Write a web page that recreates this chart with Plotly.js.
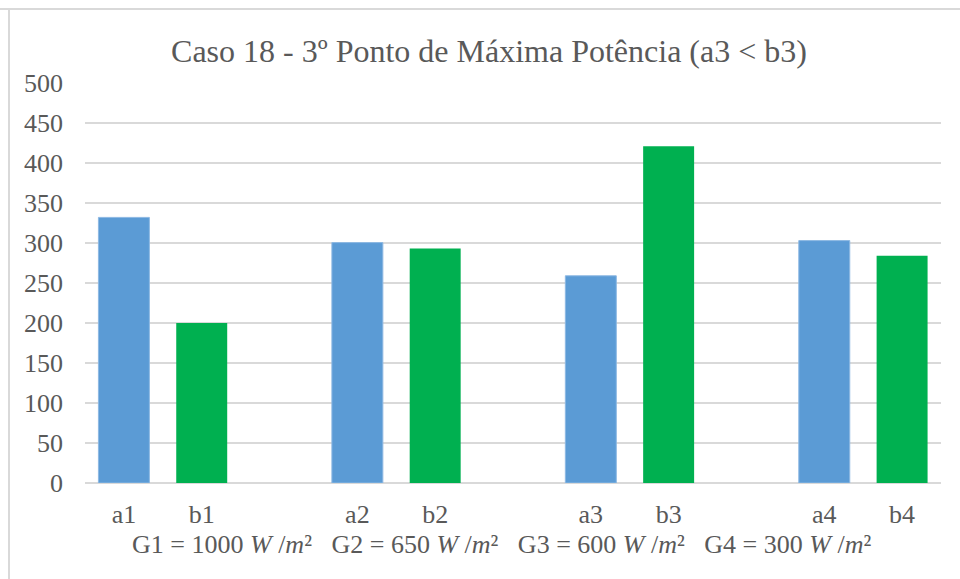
<!DOCTYPE html>
<html>
<head>
<meta charset="utf-8">
<script src="https://cdn.plot.ly/plotly-3.0.1.min.js"></script>
<style>html,body{margin:0;padding:0;background:#fff;}#chart{width:960px;height:579px;}</style>
</head>
<body>
<div id="chart"></div>
<script>
// Data
var groups = ["1", "2", "3", "4"];
var aLabels = ["a1", "a2", "a3", "a4"];
var bLabels = ["b1", "b2", "b3", "b4"];
var aValues = [332, 300.5, 259, 303];
var bValues = [200, 293, 421, 284];
var irradiance = ["1000", "650", "600", "300"];

// Slot positions: each group occupies a, b, and an empty slot
var slotsPerGroup = 3;
var aX = groups.map(function (g, i) { return i * slotsPerGroup; });
var bX = groups.map(function (g, i) { return i * slotsPerGroup + 1; });
var tickVals = [], tickText = [];
groups.forEach(function (g, i) {
  tickVals.push(aX[i], bX[i]);
  tickText.push(aLabels[i], bLabels[i]);
});

var xTitle = groups.map(function (g, i) {
  return "G" + g + " = " + irradiance[i] + " <i>W</i> /<i>m</i>²";
}).join("&nbsp;&nbsp;&nbsp;");

var grey = "#595959";
var fontFam = "Liberation Serif, Times New Roman, serif";

var traces = [
  {type: "bar", x: aX, y: aValues, width: 0.655, name: "a",
   marker: {color: "#5B9BD5", line: {color: "#8db8e3", width: 1}}, hoverinfo: "y"},
  {type: "bar", x: bX, y: bValues, width: 0.655, name: "b",
   marker: {color: "#00B050"}, hoverinfo: "y"}
];

var layout = {
  width: 960, height: 579,
  paper_bgcolor: "#ffffff", plot_bgcolor: "#ffffff",
  showlegend: false,
  barmode: "overlay",
  margin: {l: 85, r: 19, t: 83, b: 96},
  font: {family: fontFam, color: grey, size: 26},
  title: {
    text: "Caso 18 - 3º Ponto de Máxima Potência (a3 &lt; b3)",
    font: {family: fontFam, size: 32, color: grey},
    x: 489 / 960, xref: "container", xanchor: "center",
    y: 1 - 51 / 579, yref: "container", yanchor: "middle"
  },
  xaxis: {
    range: [-0.5, (groups.length - 1) * slotsPerGroup + 1.5],
    tickmode: "array", tickvals: tickVals, ticktext: tickText,
    showgrid: false, zeroline: false, showline: false, ticks: "",
    tickfont: {family: fontFam, size: 26, color: grey},
    ticklabelstandoff: 13
  },
  yaxis: {
    range: [0, 500], tick0: 0, dtick: 50,
    showgrid: true, gridcolor: "#d9d9d9", gridwidth: 1.5,
    zeroline: true, zerolinecolor: "#d9d9d9", zerolinewidth: 1.5,
    showline: false, ticks: "",
    tickfont: {family: fontFam, size: 26, color: grey},
    ticklabelstandoff: 21
  },
  annotations: [
    {text: xTitle, xref: "paper", yref: "paper", x: (501 - 85) / 856, y: (483 - 544) / 400,
     xanchor: "center", yanchor: "middle", showarrow: false,
     font: {family: fontFam, size: 26, color: grey}}
  ],
  shapes: [
    {type: "line", xref: "paper", yref: "paper", x0: -85/856, x1: 1 + 19/856, y0: 1 + (83 - 9) / 400, y1: 1 + (83 - 9) / 400,
     line: {color: "#d9d9d9", width: 2}},
    {type: "line", xref: "paper", yref: "paper", x0: -(85 - 9) / 856, x1: -(85 - 9) / 856, y0: -96/400, y1: 1 + (83 - 9) / 400,
     line: {color: "#d9d9d9", width: 2}}
  ]
};

Plotly.newPlot("chart", traces, layout, {displayModeBar: false, staticPlot: true});
</script>
</body>
</html>
